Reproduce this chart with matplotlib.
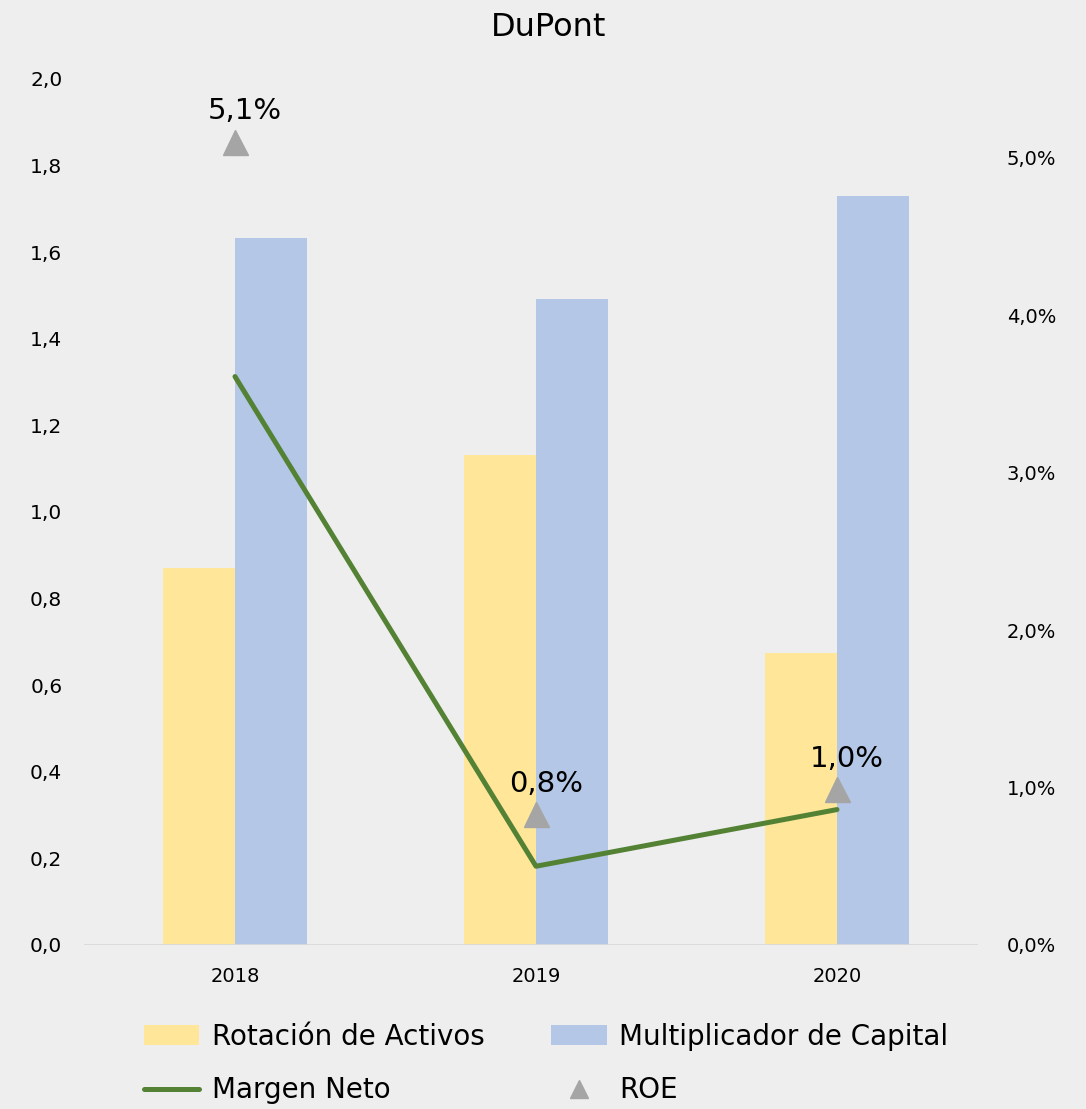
import numpy as np
import matplotlib
matplotlib.use("Agg")
import matplotlib.pyplot as plt
from matplotlib.ticker import FuncFormatter

years = ["2018", "2019", "2020"]
rotacion = [0.871, 1.132, 0.674]
multiplicador = [1.633, 1.492, 1.730]
margen_neto = [0.0361, 0.0050, 0.0086]
roe = [0.0510, 0.0083, 0.0099]

bg = "#EEEEEE"
plt.rcParams['font.family'] = ['DejaVu Sans']

fig = plt.figure(figsize=(10.86, 11.09), dpi=100, facecolor=bg)
ax = fig.add_axes([0.0778, 0.1479, 0.8315, 0.7809])
ax.set_facecolor(bg)

x = np.arange(len(years))
w = 0.24
b1 = ax.bar(x - w / 2, rotacion, w, color="#FFE699", label="Rotación de Activos")
b2 = ax.bar(x + w / 2, multiplicador, w, color="#B4C7E7", label="Multiplicador de Capital")

ax.set_xlim(-0.5, 2.5)
ax.set_ylim(0, 2.0)
ax.set_yticks(np.arange(0, 2.01, 0.2))
ax.yaxis.set_major_formatter(FuncFormatter(lambda v, p: f"{v:.1f}".replace(".", ",")))
ax.set_xticks(x)
ax.set_xticklabels(years)
for s in ["top", "right", "left", "bottom"]:
    ax.spines[s].set_visible(False)
ax.axhline(0, xmin=0, xmax=0.987, color="#D9D9D9", lw=2, zorder=1)
ax.tick_params(axis="y", length=0, labelsize=14.5, pad=16)
ax.tick_params(axis="x", length=0, labelsize=14, pad=16)

ax2 = ax.twinx()
ax2.set_ylim(0, 0.055)
ax2.set_yticks(np.arange(0, 0.051, 0.01))
ax2.yaxis.set_major_formatter(FuncFormatter(lambda v, p: f"{v*100:.1f}%".replace(".", ",")))
for s in ["top", "right", "left", "bottom"]:
    ax2.spines[s].set_visible(False)
ax2.tick_params(axis="y", length=0, labelsize=14, pad=14)

l1, = ax2.plot(x, margen_neto, color="#548235", lw=3.6, solid_capstyle="round",
               label="Margen Neto")
l2, = ax2.plot(x, roe, linestyle="none", marker="^", ms=18, color="#A5A5A5",
               label="ROE")
for xi, v in zip(x, roe):
    ax2.annotate(f"{v*100:.1f}%".replace(".", ","), (xi, v), xytext=(7, 22),
                 textcoords="offset points", ha="center", va="center", fontsize=21)

fig.suptitle("DuPont", x=0.505, y=0.989, fontsize=23)

fig.legend([b1, l1, b2, l2],
           ["Rotación de Activos", "Margen Neto", "Multiplicador de Capital", "ROE"],
           ncol=2, loc="center", bbox_to_anchor=(0.503, 0.041), frameon=False,
           fontsize=20, handlelength=2.0, handletextpad=0.45, columnspacing=2.4,
           labelspacing=0.93, markerscale=0.7)

fig.savefig("out.png", dpi=100, facecolor=bg)
